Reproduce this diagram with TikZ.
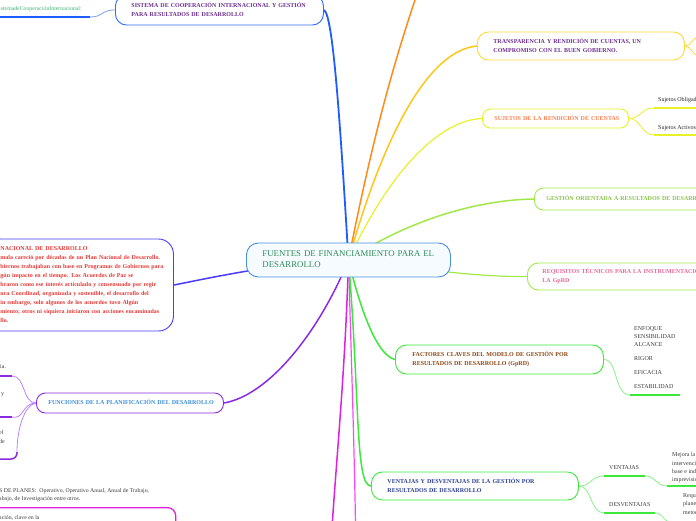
\documentclass[tikz,border=0pt]{standalone}
\usepackage{fontspec}
\setmainfont{Liberation Serif}
\usetikzlibrary{backgrounds}
\definecolor{cRootB}{HTML}{4A90D9}
\definecolor{cRootT}{HTML}{2E8B57}
\definecolor{cRootF}{HTML}{F5FBFF}
\definecolor{cSisB}{HTML}{2F6BFF}
\definecolor{cSisL}{HTML}{1F5CFF}
\definecolor{cPurT}{HTML}{6B2D8E}
\definecolor{cOrange}{HTML}{FF8A1C}
\definecolor{cGoldB}{HTML}{FFD93A}
\definecolor{cGoldL}{HTML}{FFC61A}
\definecolor{cYel}{HTML}{E8F02A}
\definecolor{cCoral}{HTML}{FF7F50}
\definecolor{cLgreen}{HTML}{A3E84A}
\definecolor{cGesT}{HTML}{8BC34A}
\definecolor{cReqT}{HTML}{E8669A}
\definecolor{cGreen}{HTML}{3CE83C}
\definecolor{cGreenL}{HTML}{8AF08A}
\definecolor{cFacT}{HTML}{8B4513}
\definecolor{cVenT}{HTML}{2B3F8F}
\definecolor{cPurB}{HTML}{8A2BE2}
\definecolor{cFunT}{HTML}{3A8ED8}
\definecolor{cFunC}{HTML}{B784FF}
\definecolor{cNacB}{HTML}{4B3BFF}
\definecolor{cNacT}{HTML}{E53935}
\definecolor{cMag}{HTML}{E020E0}
\definecolor{cMagB}{HTML}{FF44FF}
\definecolor{cGray}{HTML}{3C3C3C}
\definecolor{cSisC}{HTML}{3CB371}
\newcommand\txl[1]{\begin{tabular}{@{}l@{}}#1\end{tabular}}
\begin{document}
\begin{tikzpicture}[x=1pt,y=-1pt,
  topic/.style={draw, rounded corners=9pt, line width=0.9pt, fill=white, anchor=west,
    align=left, inner xsep=#1, inner ysep=0pt,
    font=\fontsize{6}{9}\selectfont\bfseries},
  topic/.default=15pt,
  leaf/.style={anchor=west, inner sep=0pt, align=left, text=cGray,
    font=\fontsize{6}{8.3}\selectfont},
  conn/.style={line width=1.5pt},
  thin/.style={line width=0.8pt},
  uline/.style={line width=1.5pt}]
\useasboundingbox (0,0) rectangle (696,520);
\clip (0,0) rectangle (696,520);

% ---------- main topics ----------
\node[topic=16pt, draw=cRootB, fill=cRootF, text=cRootT, text width=172pt,
  minimum height=34pt, rounded corners=12pt,
  font=\fontsize{8.8}{10.5}\selectfont] (root) at (246,260)
  {\txl{FUENTES DE FINANCIAMIENTO PARA EL\\DESARROLLO}};

\node[topic=16pt, draw=cSisB, text=cPurT, text width=176pt, minimum height=30pt,
  rounded corners=11pt] (sis) at (115,10)
  {\txl{SISTEMA DE COOPERACIÓN INTERNACIONAL Y GESTIÓN\\PARA RESULTADOS DE DESARROLLO}};

\node[topic=16pt, draw=cGoldB, text=cPurT, text width=175pt, minimum height=28pt,
  rounded corners=11pt] (tra) at (477,46)
  {\txl{TRANSPARENCIA Y RENDICIÓN DE CUENTAS, UN\\COMPROMISO CON EL BUEN GOBIERNO.}};

\node[topic=12pt, draw=cYel, text=cCoral, text width=122pt, minimum height=19pt,
  rounded corners=8pt] (suj) at (482,118.5)
  {\txl{SUJETOS DE LA RENDICIÓN DE CUENTAS}};

\node[topic=12pt, draw=cLgreen, text=cGesT, text width=220pt, minimum height=22pt]
  (ges) at (534,199) {\txl{GESTIÓN ORIENTADA A RESULTADOS DE DESARROLLO}};

\node[topic=15pt, draw=cLgreen, text=cReqT, text width=230pt, minimum height=27pt,
  rounded corners=11pt] (req) at (527,276.5)
  {\txl{REQUISITOS TÉCNICOS PARA LA INSTRUMENTACIÓN DE\\LA GpRD}};

\node[topic=15pt, draw=cNacB, text=cNacT, text width=158pt, minimum height=92pt,
  rounded corners=15pt] (nac) at (-15,285)
  {\txl{NACIONAL DE DESARROLLO\\
   mala careció por décadas de un Plan Nacional de Desarrollo.\\
   biernos trabajaban con base en Programas de Gobiernos para\\
   gún impacto en el tiempo. Los Acuerdos de Paz se\\
   braron como ese interés articulado y consensuado por regir\\
   ura Coordinad, organizada y sostenible, el desarrollo del\\
   in embargo, solo algunos de los acuerdos tuvo Algún\\
   miento; otros ni siquiera iniciaron con acciones encaminadas\\
   llo.}};

\node[topic=12pt, draw=cPurB, text=cFunT, text width=163pt, minimum height=20pt,
  rounded corners=9pt] (fun) at (36,403)
  {\txl{FUNCIONES DE LA PLANIFICACIÓN DEL DESARROLLO}};

\node[topic=17pt, draw=cGreen, text=cFacT, text width=174pt, minimum height=29pt,
  rounded corners=11pt] (fac) at (395,359.5)
  {\txl{FACTORES CLAVES DEL MODELO DE GESTIÓN POR\\RESULTADOS DE DESARROLLO (GpRD)}};

\node[topic=16pt, draw=cGreen, text=cVenT, text width=175pt, minimum height=28pt,
  rounded corners=11pt] (ven) at (371,486)
  {\txl{VENTAJAS Y DESVENTAJAS DE LA GESTIÓN POR\\RESULTADOS DE DESARROLLO}};

% ---------- leaves ----------
\node[leaf, text=cSisC, font=\fontsize{5.8}{7}\selectfont] (sisc) at (-1,9)
  {istemadeCooperaciónInternacional:};
\coordinate (sisuA) at (0,17); \coordinate (sisuB) at (90,17);

\node[leaf, text=black!85] (so) at (658,100) {Sujetos Obligados};
\coordinate (soA) at (654,108); \coordinate (soB) at (700,108);
\node[leaf, text=black!85] (sa) at (658,128) {Sujetos Activos};
\coordinate (saA) at (654,135); \coordinate (saB) at (700,135);

\node[leaf, anchor=north west] (facl) at (634,326)
  {ENFOQUE\\[-0.3pt]SENSIBILIDAD\\[-0.3pt]ALCANCE\\[5.7pt]RIGOR\\[5.7pt]EFICACIA\\[5.7pt]ESTABILIDAD};
\coordinate (faclA) at (630,395); \coordinate (faclB) at (680,395);

\node[leaf] (vv) at (609,468) {VENTAJAS};
\coordinate (vvA) at (604,476); \coordinate (vvB) at (645,476);
\node[leaf] (dv) at (609,505) {DESVENTAJAS};
\coordinate (dvA) at (604,513); \coordinate (dvB) at (655,513);

\node[leaf, anchor=north west] (vvt) at (672,452.5)
  {Mejora la\\intervención\\base e indicadores\\imprevistos};
\coordinate (vvtA) at (667,486); \coordinate (vvtB) at (700,486);
\node[leaf, anchor=north west] (dvt) at (683,493.5)
  {Requiere\\planear\\metodologías};
\coordinate (dvtA) at (674,524); \coordinate (dvtB) at (700,524);

\node[leaf] (f1) at (0,367) {ia.};
\coordinate (f1A) at (0,376); \coordinate (f1B) at (12,376);
\node[leaf] (f2) at (1,395) {y};
\coordinate (f2A) at (0,417); \coordinate (f2B) at (12,417);
\node[leaf, anchor=north west] (f3) at (-1,430.5) {el\\de};
\coordinate (f3A) at (0,459); \coordinate (f3B) at (17,452);

\node[leaf, anchor=north west, font=\fontsize{5.8}{8}\selectfont] (tip) at (-1,488)
  {S DE PLANES:\ \ Operativo, Operativo Anual, Anual de Trabajo,\\abajo, de Investigación entre otros.};

\node[draw=cMag, line width=1.3pt, rounded corners=8pt, anchor=north west,
  minimum width=195pt, minimum height=60pt, inner sep=0pt] (mbox) at (-20,507) {};
\node[leaf, font=\fontsize{5.8}{8}\selectfont] (mtx) at (-1,518) {ación, clave en la};

\coordinate (traR1) at (702,36); \coordinate (traR2) at (702,57);
\coordinate (orEnd) at (425,-30);
\coordinate (mgEnd1) at (330,560); \coordinate (mgEnd2) at (356,560);

% ---------- connectors ----------
\begin{pgfonlayer}{background}
\draw[conn, cSisL, line width=1.8pt] (root.center) .. controls (340,120) and (333,14) .. (sis.east);
\draw[conn, cOrange] (root.center) .. controls (380,100) and (405,30) .. (orEnd);
\draw[conn, cGoldL] (root.center) .. controls (385,130) and (430,50) .. (tra.west);
\draw[conn, cYel, line width=1.2pt] (root.center) .. controls (390,170) and (440,120) .. (suj.west);
\draw[conn, cLgreen] (root.center) .. controls (400,225) and (470,200) .. (ges.west);
\draw[conn, cLgreen, line width=1.2pt] (root.center) .. controls (420,268) and (470,277) .. (req.west);
\draw[conn, cGreen] (root.center) .. controls (358,300) and (375,355) .. (fac.west);
\draw[conn, cGreen] (root.center) .. controls (360,400) and (355,486) .. (ven.west);
\draw[conn, cPurB] (root.center) .. controls (320,330) and (270,395) .. (fun.east);
\draw[conn, cNacB] (root.center) .. controls (280,262) and (200,280) .. (nac.east);
\draw[conn, cMag] (root.center) .. controls (345,380) and (335,470) .. (mgEnd1);
\draw[conn, cMagB, line width=1.2pt] (root.center) .. controls (352,380) and (355,470) .. (mgEnd2);

% sub connectors
\draw[thin, cSisL!60] (sis.west) .. controls (100,10) and (104,17) .. (sisuB);
\draw[uline, cSisL] (sisuA) -- (sisuB);

\draw[thin, cGoldB] (tra.east) .. controls (692,46) and (692,36) .. (traR1);
\draw[thin, cGoldB] (tra.east) .. controls (692,46) and (692,57) .. (traR2);

\draw[thin, cYel] (suj.east) .. controls (641,118.5) and (641,108) .. (soA);
\draw[thin, cYel] (suj.east) .. controls (641,118.5) and (641,135) .. (saA);
\draw[uline, cYel] (soA) -- (soB);
\draw[uline, cYel] (saA) -- (saB);

\draw[thin, cGreenL] (fac.east) .. controls (618,359.5) and (614,395) .. (faclA);
\draw[uline, cGreen] (faclA) -- (faclB);

\draw[thin, cGreenL] (ven.east) .. controls (592,486) and (590,476) .. (vvA);
\draw[thin, cGreenL] (ven.east) .. controls (592,486) and (590,513) .. (dvA);
\draw[uline, cGreen] (vvA) -- (vvB);
\draw[uline, cGreen] (dvA) -- (dvB);
\draw[thin, cGreenL] (vvB) .. controls (656,476) and (656,486) .. (vvtA);
\draw[uline, cGreen] (vvtA) -- (vvtB);
\draw[thin, cGreenL] (dvB) .. controls (664,513) and (664,524) .. (dvtA);
\draw[uline, cGreen] (dvtA) -- (dvtB);

\draw[thin, cFunC] (fun.west) .. controls (22,403) and (26,376) .. (f1B);
\draw[thin, cFunC] (fun.west) .. controls (22,403) and (24,420) .. (f2B);
\draw[thin, cFunC] (fun.west) .. controls (24,405) and (17,430) .. (f3B);
\draw[uline, cPurB] (f1A) -- (f1B);
\draw[uline, cPurB] (f2A) -- (f2B);
\draw[uline, cPurB, rounded corners=6pt] (f3A) -- (17,459) -- (f3B);
\end{pgfonlayer}
\end{tikzpicture}
\end{document}
